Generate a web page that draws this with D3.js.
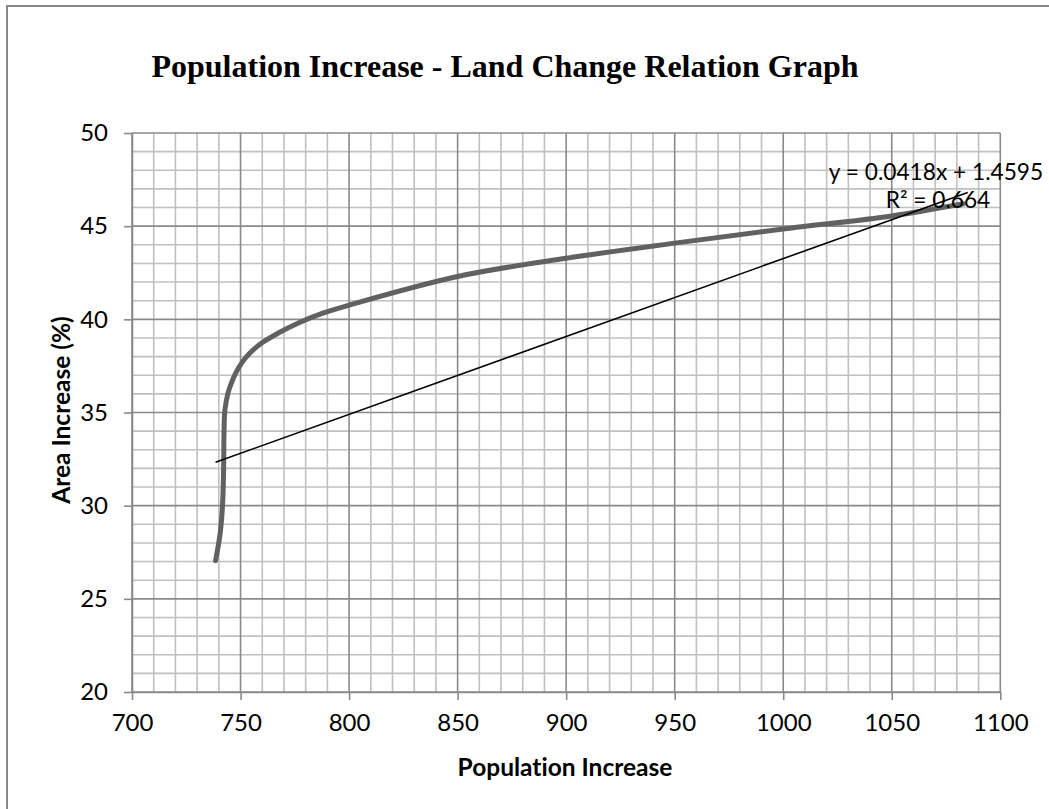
<!DOCTYPE html>
<html>
<head>
<meta charset="utf-8">
<script src="https://cdn.jsdelivr.net/npm/d3@7"></script>
<style>
  body { margin: 0; background: #fff; }
  text { fill: #000; font-variant-ligatures: none; }
</style>
</head>
<body>
<div id="container"></div>
<script>
/* CONSTANTS AND GLOBALS */
const width = 1049,
  height = 809,
  margin = { top: 133, bottom: 117, left: 132, right: 48 }

// data
const population = [738.5, 740.6, 741.7, 742.2, 742.4, 742.8, 744.2, 745.75, 747.7, 750.4, 754.2, 759.6, 767.2, 776.4, 787.9, 800.2, 850, 900, 950, 1000, 1050, 1083]
const areaIncrease = [27.05, 28.5, 30.0, 32.0, 34.0, 35.13, 36.03, 36.57, 37.1, 37.64, 38.18, 38.72, 39.25, 39.79, 40.33, 40.77, 42.3, 43.28, 44.09, 44.85, 45.55, 46.2]
const xTicks = [700, 750, 800, 850, 900, 950, 1000, 1050, 1100]
const yTicks = [20, 25, 30, 35, 40, 45, 50]
const trendSlope = 0.0418,
  trendIntercept = 1.4595,
  trendR2 = 0.664

const data = population.map((p, i) => ({ pop: p, area: areaIncrease[i] }))

/* SCALES */
const xScale = d3.scaleLinear()
  .domain([700, 1100])
  .range([margin.left, width - margin.right - 0.7])

const yScale = d3.scaleLinear()
  .domain([20, 50])
  .range([height - margin.bottom, margin.top])

/* SVG */
const svg = d3.select("#container")
  .append("svg")
  .attr("width", width)
  .attr("height", height)

// outer chart border (only top & left visible in the picture)
svg.append("rect")
  .attr("x", 7)
  .attr("y", 6)
  .attr("width", 1100)
  .attr("height", 900)
  .attr("fill", "#fff")
  .attr("stroke", "#878787")
  .attr("stroke-width", 2)

// title
svg.append("text")
  .attr("x", 505)
  .attr("y", 77)
  .attr("text-anchor", "middle")
  .style("font-family", "'Liberation Serif', 'Times New Roman', serif")
  .style("font-weight", "bold")
  .style("font-size", "32px")
  .text("Population Increase - Land Change Relation Graph")

/* GRID */
const grid = svg.append("g").attr("class", "grid")
const minorX = d3.range(700, 1101, 10).filter(v => v % 50 !== 0)
const minorY = d3.range(20, 51, 1).filter(v => v % 5 !== 0)

grid.selectAll(".minor-x")
  .data(minorX)
  .join("line")
  .attr("x1", d => xScale(d)).attr("x2", d => xScale(d))
  .attr("y1", yScale(20)).attr("y2", yScale(50))
  .attr("stroke", "#c0c0c0").attr("stroke-width", 1.6)

grid.selectAll(".minor-y")
  .data(minorY)
  .join("line")
  .attr("y1", d => yScale(d)).attr("y2", d => yScale(d))
  .attr("x1", xScale(700)).attr("x2", xScale(1100))
  .attr("stroke", "#c0c0c0").attr("stroke-width", 1.6)

grid.selectAll(".major-x")
  .data(xTicks)
  .join("line")
  .attr("x1", d => xScale(d)).attr("x2", d => xScale(d))
  .attr("y1", yScale(20)).attr("y2", yScale(50))
  .attr("stroke", "#8a8a8a").attr("stroke-width", 1.6)

grid.selectAll(".major-y")
  .data(yTicks)
  .join("line")
  .attr("y1", d => yScale(d)).attr("y2", d => yScale(d))
  .attr("x1", xScale(700)).attr("x2", xScale(1100))
  .attr("stroke", "#8a8a8a").attr("stroke-width", 1.6)

/* AXES */
const xAxis = d3.axisBottom(xScale)
  .tickValues(xTicks)
  .tickFormat(d3.format("d"))
  .tickSize(8)
  .tickPadding(14)
  .tickSizeOuter(0)

const xAxisGroup = svg.append("g")
  .attr("class", "xAxis")
  .attr("transform", `translate(0, ${yScale(20)})`)
  .call(xAxis)

const yAxis = d3.axisLeft(yScale)
  .tickValues(yTicks)
  .tickFormat(d3.format("d"))
  .tickSize(8)
  .tickPadding(16)
  .tickSizeOuter(0)

const yAxisGroup = svg.append("g")
  .attr("class", "yAxis")
  .attr("transform", `translate(${xScale(700)}, 0)`)
  .call(yAxis)

svg.selectAll(".xAxis path, .yAxis path, .xAxis line, .yAxis line")
  .attr("stroke", "#8a8a8a")
  .attr("stroke-width", 1.6)

svg.selectAll(".xAxis text, .yAxis text")
  .attr("fill", "#000")
  .style("font-family", "Lato, 'Open Sans', sans-serif")
  .style("font-size", "24px")

xAxisGroup.append("text")
  .attr("x", 565)
  .attr("y", 84)
  .attr("text-anchor", "middle")
  .attr("fill", "#000")
  .style("font-family", "Lato, 'Open Sans', sans-serif")
  .style("font-weight", "bold")
  .style("font-size", "24.5px")
  .text("Population Increase")

yAxisGroup.append("text")
  .attr("transform", "rotate(-90)")
  .attr("x", -410)
  .attr("y", -62)
  .attr("text-anchor", "middle")
  .attr("fill", "#000")
  .style("font-family", "Lato, 'Open Sans', sans-serif")
  .style("font-weight", "bold")
  .style("font-size", "24.5px")
  .text("Area Increase (%)")

/* DATA LINE */
const lineGen = d3.line()
  .x(d => xScale(d.pop))
  .y(d => yScale(d.area))
  .curve(d3.curveCatmullRom.alpha(0.5))

svg.append("path")
  .datum(data)
  .attr("fill", "none")
  .attr("stroke", "#616161")
  .attr("stroke-width", 5)
  .attr("stroke-linecap", "round")
  .attr("d", lineGen)

/* TREND LINE */
const xExtent = d3.extent(population)
const trend = [xExtent[0], xExtent[1] + 2].map(x => ({ pop: x, area: trendSlope * x + trendIntercept }))

svg.append("path")
  .datum(trend)
  .attr("fill", "none")
  .attr("stroke", "#000")
  .attr("stroke-width", 1.6)
  .attr("d", d3.line().x(d => xScale(d.pop)).y(d => yScale(d.area)))

const eq = svg.append("text")
  .attr("text-anchor", "middle")
  .style("font-family", "Lato, 'Open Sans', sans-serif")
  .style("font-size", "22.7px")

eq.append("tspan")
  .attr("x", 936)
  .attr("y", 180)
  .text(`y = ${trendSlope}x + ${trendIntercept}`)

eq.append("tspan")
  .attr("x", 938)
  .attr("y", 208)
  .text(`R² = ${trendR2}`)
</script>
</body>
</html>
